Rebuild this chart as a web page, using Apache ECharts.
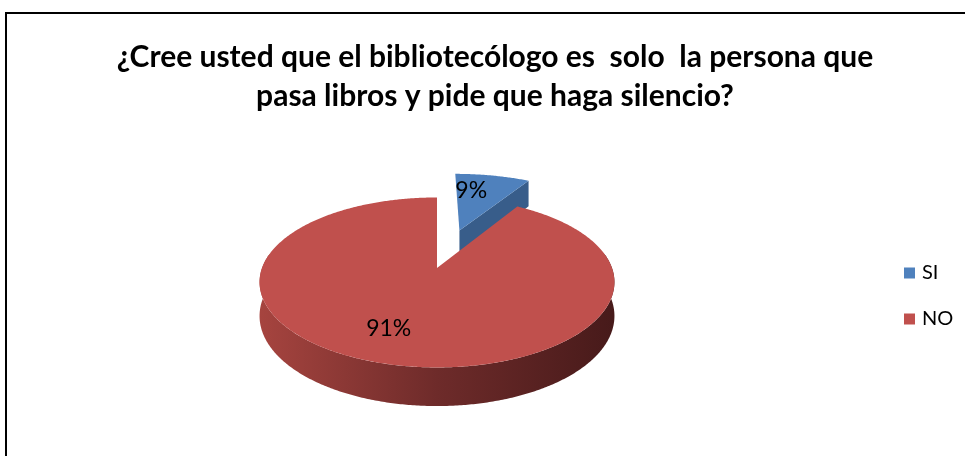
<!DOCTYPE html>
<html>
<head>
<meta charset="utf-8">
<script src="https://cdn.jsdelivr.net/npm/echarts@6/dist/echarts.min.js"></script>
<style>
html, body { margin: 0; padding: 0; background: #fff; }
#chart { width: 965px; height: 456px; }
</style>
</head>
<body>
<div id="chart"></div>
<script>
var categories = ['SI', 'NO'];
var values = [9, 91];
var titleText = '¿Cree usted que el bibliotecólogo es  solo  la persona que\npasa libros y pide que haga silencio?';

// look of the fake 3d pie
var topColors = ['#4F81BD', '#C0504D'];
var explode = [0.5, 0];
var CX = 437, CY = 268, R = 175, RK = 85, P = 0.17, H = 33;

var total = values.reduce(function (a, b) { return a + b; }, 0);
var startAngles = [];
var acc = 0;
values.forEach(function (v) {
    startAngles.push(acc / total * Math.PI * 2);
    acc += v;
});

var sideFills = [
    '#385D8A',
    new echarts.graphic.LinearGradient(0, 0, 1, 0, [
        { offset: 0, color: '#A6443F' },
        { offset: 0.5, color: '#6E2B2A' },
        { offset: 1, color: '#471A1A' }
    ])
];

// u,v on the unit disc (v > 0 toward the viewer), z: 0 top, 1 bottom
function proj(u, v, z) {
    var s = 1 + P * v;
    return [CX + R * u * s, CY + RK * v * s + z * H * s];
}

function makeRender(i) {
    return function (params, api) {
        var val = api.value(0);
        var a0 = startAngles[i];
        var a1 = a0 + val / total * Math.PI * 2;
        var mid = (a0 + a1) / 2;
        var eu = explode[i] * Math.sin(mid), ev = -explode[i] * Math.cos(mid);
        function pt(t, r, z) {
            return proj(eu + r * Math.sin(t), ev - r * Math.cos(t), z);
        }
        function arc(from, to, z) {
            var pts = [];
            var n = Math.max(2, Math.ceil(Math.abs(to - from) / 0.01));
            for (var k = 0; k <= n; k++) {
                pts.push(pt(from + (to - from) * k / n, 1, z));
            }
            return pts;
        }
        function wall(t) {
            return {
                type: 'polygon',
                shape: { points: [pt(t, 0, 0), pt(t, 1, 0), pt(t, 1, 1), pt(t, 0, 1)] },
                style: { fill: sideFills[i], stroke: null }
            };
        }
        var children = [];
        if (Math.sin(a0) < -1e-6) children.push(wall(a0));
        if (Math.sin(a1) > 1e-6) children.push(wall(a1));

        var lo = Math.max(a0, 80 * Math.PI / 180);
        var hi = Math.min(a1, 280 * Math.PI / 180);
        if (lo < hi) {
            children.push({
                type: 'polygon',
                shape: { points: arc(lo, hi, 0).concat(arc(hi, lo, 1)) },
                style: { fill: sideFills[i], stroke: null }
            });
        }
        children.push({
            type: 'polygon',
            shape: { points: [pt(0, 0, 0)].concat(arc(a0, a1, 0)) },
            style: { fill: topColors[i], stroke: null }
        });
        var lp = pt(mid, 0.67, 0);
        children.push({
            type: 'text',
            style: {
                text: Math.round(val / total * 100) + '%',
                x: lp[0] - 12,
                y: lp[1],
                fill: '#000',
                fontSize: 23,
                fontFamily: 'Lato',
                align: 'center',
                verticalAlign: 'middle'
            }
        });
        return { type: 'group', children: children };
    };
}

var chart = echarts.init(document.getElementById('chart'));

var option = {
    animation: false,
    backgroundColor: '#fff',
    color: topColors,
    title: {
        text: titleText,
        left: 490,
        top: 33,
        textAlign: 'center',
        textStyle: {
            fontFamily: 'Lato',
            fontWeight: 'bold',
            fontSize: 30,
            lineHeight: 39,
            color: '#000'
        }
    },
    legend: {
        data: categories,
        orient: 'vertical',
        left: 899,
        top: 258,
        icon: 'rect',
        itemWidth: 11,
        itemHeight: 11,
        itemGap: 26,
        selectedMode: false,
        textStyle: { fontFamily: 'Lato', fontSize: 20, color: '#000', padding: [0, 0, 0, 2] }
    },
    graphic: [{
        type: 'rect',
        shape: { x: 6, y: 13, width: 1000, height: 500 },
        style: { fill: null, stroke: '#000', lineWidth: 2 },
        silent: true
    }],
    series: categories.map(function (c, i) {
        return {
            type: 'custom',
            name: c,
            coordinateSystem: 'none',
            silent: true,
            itemStyle: { color: topColors[i] },
            data: [[values[i]]],
            renderItem: makeRender(i)
        };
    })
};

chart.setOption(option);
</script>
</body>
</html>
